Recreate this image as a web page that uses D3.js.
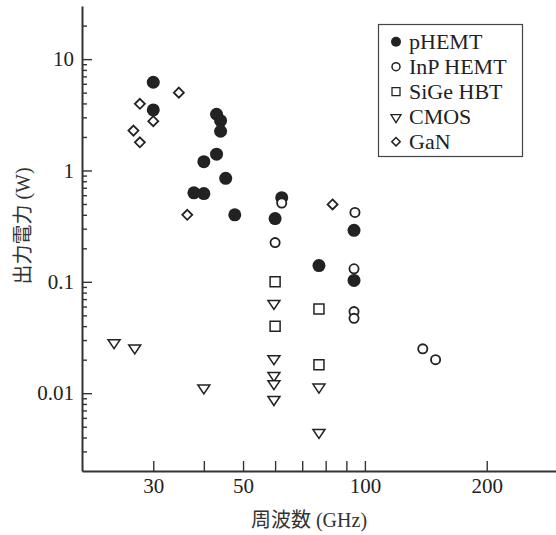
<!DOCTYPE html>
<html>
<head>
<meta charset="utf-8">
<script src="https://cdn.jsdelivr.net/npm/d3@7"></script>
<style>
  body { margin: 0; background: #fff; }
  svg { display: block; }
  .num { font-family: "Liberation Serif", serif; }
</style>
</head>
<body>
<div id="chart"></div>
<script>
// size of the picture
var width = 556;
var height = 535;

// data: [frequency GHz, output power W]
var pHEMT = [[30, 6.2], [30, 3.5], [43, 3.2], [44, 2.8], [44, 2.25], [43, 1.4], [40, 1.2],
             [45.3, 0.85], [37.8, 0.63], [40, 0.62], [47.7, 0.4], [60, 0.37], [62.3, 0.57],
             [77, 0.14], [94, 0.29], [94, 0.103]];
var inpHEMT = [[62.3, 0.51], [60, 0.225], [94.5, 0.42], [94, 0.131], [94, 0.054], [94, 0.047],
               [139, 0.025], [149.5, 0.02]];
var sigeHBT = [[60, 0.1], [60, 0.04], [77, 0.057], [77, 0.018]];
var cmos = [[24, 0.0275], [27, 0.0247], [40, 0.0108], [59.6, 0.062], [59.6, 0.0198], [59.6, 0.014],
            [59.6, 0.0118], [59.6, 0.0085], [77, 0.011], [77, 0.0043]];
var gan = [[34.7, 5.0], [27.8, 3.97], [30, 2.77], [26.8, 2.28], [27.8, 1.79], [36.4, 0.4], [83.2, 0.495]];

var seriesNames = ["pHEMT", "InP HEMT", "SiGe HBT", "CMOS", "GaN"];

// axis ticks
var xTicks = [30, 40, 50, 60, 70, 80, 90, 100, 200];
var xLabels = [30, 50, 100, 200];
var yTicks = [0.01, 0.1, 1, 10];
var yTickLabels = ["0.01", "0.1", "1", "10"];
var yMinor = [0.003, 0.004, 0.005, 0.006, 0.007, 0.008, 0.009,
              0.02, 0.03, 0.04, 0.05, 0.06, 0.07, 0.08, 0.09,
              0.2, 0.3, 0.4, 0.5, 0.6, 0.7, 0.8, 0.9,
              2, 3, 4, 5, 6, 7, 8, 9, 20];

var margin = { left: 82, top: 6, right: 0, bottom: 64 };
var ink = "#222";

var svg = d3.select("#chart")
    .append("svg")
    .attr("width", width)
    .attr("height", height);

var x = d3.scaleLog()
    .domain([20, 300])
    .range([margin.left, width + 2]);

var y = d3.scaleLog()
    .domain([0.002, 30])
    .range([height - margin.bottom, margin.top]);

// x axis
var xAxis = svg.append("g")
    .attr("transform", "translate(0," + (height - margin.bottom) + ")")
    .call(d3.axisBottom(x)
        .tickValues(xTicks)
        .tickSize(-10)
        .tickSizeOuter(0)
        .tickFormat(function (d) { return xLabels.indexOf(d) >= 0 ? d : ""; }));

// y axis: major ticks with labels, then minor ticks
var yAxis = svg.append("g")
    .attr("transform", "translate(" + margin.left + ",0)")
    .call(d3.axisLeft(y)
        .tickValues(yTicks)
        .tickSize(-10)
        .tickSizeOuter(0)
        .tickFormat(function (d, i) { return yTickLabels[i]; }));

svg.append("g")
    .attr("transform", "translate(" + margin.left + ",0)")
    .call(d3.axisLeft(y)
        .tickValues(yMinor)
        .tickSize(-5)
        .tickSizeOuter(0)
        .tickFormat(""))
    .select(".domain").remove();

svg.selectAll(".domain").attr("stroke", "#333").attr("stroke-width", 2);
svg.selectAll(".tick line").attr("stroke", "#333").attr("stroke-width", 1.4);

// d3 puts font-family on the axis group, drop it so the class wins
xAxis.attr("font-family", null).attr("font-size", null);
yAxis.attr("font-family", null).attr("font-size", null);

xAxis.selectAll("text")
    .attr("class", "num")
    .attr("y", 22).attr("dy", null)
    .attr("fill", ink)
    .style("font-size", "21px");

yAxis.selectAll("text")
    .attr("class", "num")
    .attr("x", -8)
    .attr("fill", ink)
    .style("font-size", "21px");

// axis titles: latin in serif, kanji falls back to the CJK font
svg.append("text")
    .attr("x", 309)
    .attr("y", 527)
    .attr("text-anchor", "middle")
    .attr("fill", "#333")
    .style("font-family", "Liberation Serif, Noto Sans CJK JP")
    .style("font-size", "20px")
    .text("周波数 (GHz)");

svg.append("text")
    .attr("transform", "translate(30,226) rotate(-90)")
    .attr("text-anchor", "middle")
    .attr("fill", "#333")
    .style("font-family", "Liberation Serif, Noto Sans CJK JP")
    .style("font-size", "20px")
    .text("出力電力 (W)");

// marker shapes
function squarePath(s) {
    return "M" + (-s / 2) + "," + (-s / 2) + "h" + s + "v" + s + "h" + (-s) + "Z";
}
function trianglePath(w, h) {
    return "M" + (-w / 2) + "," + (-h / 2) + "L" + (w / 2) + "," + (-h / 2) + "L0," + (h / 2) + "Z";
}
function diamondPath(r) {
    return "M0," + (-r) + "L" + r + ",0L0," + r + "L" + (-r) + ",0Z";
}

function pos(d) { return "translate(" + x(d[0]) + "," + y(d[1]) + ")"; }

var marks = svg.append("g");

marks.selectAll(".gan")
    .data(gan)
    .enter()
    .append("path")
    .attr("transform", pos)
    .attr("d", diamondPath(5))
    .attr("fill", "#fff")
    .attr("stroke", ink)
    .attr("stroke-width", 1.8);

marks.selectAll(".sige")
    .data(sigeHBT)
    .enter()
    .append("path")
    .attr("transform", pos)
    .attr("d", squarePath(10))
    .attr("fill", "#fff")
    .attr("stroke", ink)
    .attr("stroke-width", 1.5);

marks.selectAll(".cmos")
    .data(cmos)
    .enter()
    .append("path")
    .attr("transform", pos)
    .attr("d", trianglePath(12, 9))
    .attr("fill", "#fff")
    .attr("stroke", ink)
    .attr("stroke-width", 1.5);

marks.selectAll(".phemt")
    .data(pHEMT)
    .enter()
    .append("circle")
    .attr("cx", function (d) { return x(d[0]); })
    .attr("cy", function (d) { return y(d[1]); })
    .attr("r", 6.5)
    .attr("fill", ink);

marks.selectAll(".inp")
    .data(inpHEMT)
    .enter()
    .append("circle")
    .attr("cx", function (d) { return x(d[0]); })
    .attr("cy", function (d) { return y(d[1]); })
    .attr("r", 4.6)
    .attr("fill", "#fff")
    .attr("stroke", ink)
    .attr("stroke-width", 1.8);

// legend
var legend = svg.append("g").attr("transform", "translate(378.5,24.5)");

legend.append("rect")
    .attr("width", 144)
    .attr("height", 132)
    .attr("fill", "#fff")
    .attr("stroke", "#444")
    .attr("stroke-width", 1.2);

var items = legend.selectAll(".item")
    .data(seriesNames)
    .enter()
    .append("g")
    .attr("transform", function (d, i) { return "translate(17.5," + (17.2 + i * 25) + ")"; });

items.each(function (d, i) {
    var g = d3.select(this);
    if (i == 0) {
        g.append("circle").attr("r", 5).attr("fill", ink);
    } else if (i == 1) {
        g.append("circle").attr("r", 4).attr("fill", "#fff").attr("stroke", ink).attr("stroke-width", 1.5);
    } else if (i == 2) {
        g.append("path").attr("d", squarePath(8)).attr("fill", "#fff").attr("stroke", ink).attr("stroke-width", 1.3);
    } else if (i == 3) {
        g.append("path").attr("d", trianglePath(10, 8)).attr("transform", "translate(0,2)")
            .attr("fill", "#fff").attr("stroke", ink).attr("stroke-width", 1.3);
    } else {
        g.append("path").attr("d", diamondPath(4.2)).attr("fill", "#fff").attr("stroke", ink).attr("stroke-width", 1.5);
    }
});

items.append("text")
    .attr("class", "num")
    .attr("x", 13)
    .attr("dy", "0.35em")
    .attr("fill", ink)
    .style("font-size", "22px")
    .text(function (d) { return d; });
</script>
</body>
</html>
